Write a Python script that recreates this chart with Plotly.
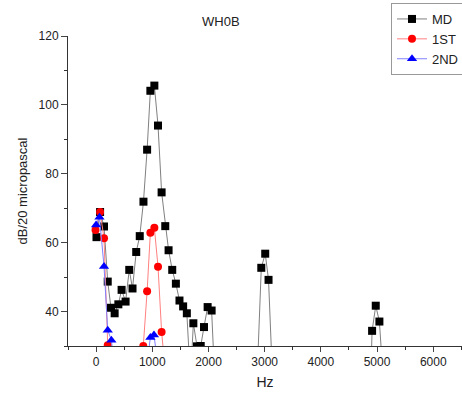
import plotly.graph_objects as go

# MD series (Hz, dB)
md_hz = [7, 71, 141, 207, 265, 330, 396, 454, 525, 590, 648, 714, 777, 843, 908, 966,
         1037, 1102, 1166, 1231, 1290, 1355, 1420, 1484, 1549, 1615, 1680, 1731, 1796,
         1862, 1920, 1985, 2056, 2121, 2875, 2940, 3010, 3069, 3134, 4850, 4912, 4977,
         5042, 5107]
md_db = [61.6, 68.9, 64.7, 48.7, 41.1, 39.5, 42.1, 46.3, 42.9, 52.1, 46.7, 57.3, 61.9,
         71.9, 87.0, 104.1, 105.6, 94.0, 74.6, 64.8, 57.8, 52.1, 48.1, 43.2, 41.5, 39.5,
         20.0, 36.6, 29.9, 30.0, 35.5, 41.3, 40.3, 17.0, 25.0, 52.7, 56.8, 49.2, 23.0,
         0.0, 34.4, 41.7, 37.1, 21.0]

# 1ST series
st1_hz = [-10, 71, 141, 207, 272, 777, 840, 908, 966, 1037, 1102, 1166, 1231]
st1_db = [63.7, 68.9, 61.3, 30.2, 20.0, 20.0, 30.0, 45.9, 62.9, 64.3, 53.0, 34.1, 22.7]

# 2ND series
nd2_hz = [0, 60, 141, 207, 272, 337, 908, 966, 1030, 1095]
nd2_db = [65.1, 67.4, 53.1, 34.6, 31.7, 22.0, 25.0, 32.5, 33.2, 25.0]

x_ticks = [0, 1000, 2000, 3000, 4000, 5000, 6000]
y_ticks = [40, 60, 80, 100, 120]

fig = go.Figure()
fig.add_trace(go.Scatter(x=md_hz, y=md_db, name="MD", mode="lines+markers",
                         line=dict(color="#808080", width=1),
                         marker=dict(symbol="square", size=8, color="black")))
fig.add_trace(go.Scatter(x=st1_hz, y=st1_db, name="1ST", mode="lines+markers",
                         line=dict(color="#ff8080", width=1),
                         marker=dict(symbol="circle", size=8, color="red")))
fig.add_trace(go.Scatter(x=nd2_hz, y=nd2_db, name="2ND", mode="lines+markers",
                         line=dict(color="#8080ff", width=1),
                         marker=dict(symbol="triangle-up", size=9, color="blue")))

font_family = "Liberation Sans, Arial, sans-serif"
fig.update_layout(
    width=462, height=394,
    margin=dict(l=68, r=0, t=36, b=48, autoexpand=False),
    paper_bgcolor="white", plot_bgcolor="white",
    font=dict(family=font_family, size=12, color="#222222"),
    showlegend=True,
    legend=dict(x=(391 - 68) / 394, y=(346 - 3) / 310, xanchor="left", yanchor="top",
                bordercolor="#999999", borderwidth=1, bgcolor="white",
                font=dict(size=13, color="#222222"), tracegroupgap=0,
                itemsizing="trace"),
    annotations=[dict(text="WH0B", x=(221 - 68) / 394, y=(346 - 21) / 310,
                      xref="paper", yref="paper", showarrow=False,
                      xanchor="center", yanchor="middle",
                      font=dict(size=13, color="#222222"))],
)
fig.update_xaxes(range=[-500, 6512], tickvals=x_ticks, ticks="outside", ticklen=5,
                 showline=True, linecolor="#333333", linewidth=1, showgrid=False,
                 zeroline=False, tickfont=dict(size=12),
                 minor=dict(dtick=500, tick0=-500, ticks="outside", ticklen=3,
                            tickcolor="#333333"),
                 title=dict(text="Hz", font=dict(size=14), standoff=8))
fig.update_yaxes(range=[30, 120], tickvals=y_ticks, ticks="outside", ticklen=6,
                 showline=True, linecolor="#333333", linewidth=1, showgrid=False,
                 zeroline=False, tickfont=dict(size=12),
                 minor=dict(dtick=10, tick0=30, ticks="outside", ticklen=3,
                            tickcolor="#333333"),
                 title=dict(text="dB/20 micropascal", font=dict(size=13), standoff=8))

fig.write_html("out.html",
               config={"displayModeBar": False},
               post_script="document.body.style.margin='0px';"
                           "document.body.style.overflow='hidden';")
